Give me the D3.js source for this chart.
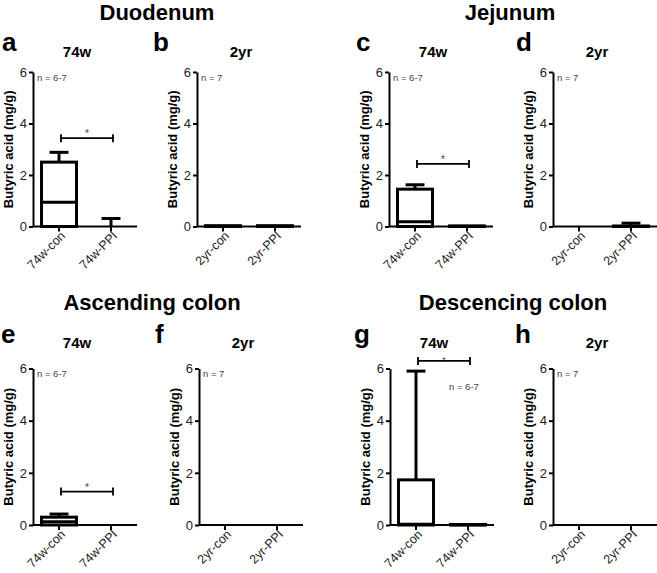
<!DOCTYPE html>
<html>
<head>
<meta charset="utf-8">
<script src="https://cdn.jsdelivr.net/npm/d3@7"></script>
<style>
  html, body { margin: 0; padding: 0; background: #fff; }
  svg { display: block; font-family: "Liberation Sans", Arial, sans-serif; }
</style>
</head>
<body>
<script>
// ---------------- DATA ----------------
const regionTitles = ["Duodenum", "Jejunum", "Ascending colon", "Descencing colon"];
const panelLetters = ["a", "b", "c", "d", "e", "f", "g", "h"];
const ageLabels = ["74w", "2yr", "74w", "2yr", "74w", "2yr", "74w", "2yr"];
const nLabels = ["n = 6-7", "n = 7", "n = 6-7", "n = 7", "n = 6-7", "n = 7", "n = 6-7", "n = 7"];
const categories74w = ["74w-con", "74w-PPI"];
const categories2yr = ["2yr-con", "2yr-PPI"];
const yTickValues = [0, 2, 4, 6];
const yLabel = "Butyric acid (mg/g)";
// box plot values per panel: [con, PPI]
const q1Values     = [[0, 0], [0, 0], [0, 0], [0, 0], [0, 0], [0, 0], [0, 0], [0, 0]];
const medianValues = [[0.94, 0], [0.01, 0.01], [0.18, 0.01], [0, 0], [0.12, 0], [0, 0], [0.03, 0.01], [0, 0]];
const q3Values     = [[2.5, 0], [0.03, 0.03], [1.45, 0.02], [0, 0.02], [0.3, 0], [0, 0], [1.73, 0.02], [0, 0]];
const maxValues    = [[2.88, 0.31], [0.03, 0.03], [1.62, 0.02], [0, 0.13], [0.42, 0], [0, 0], [5.9, 0.02], [0, 0]];
// significance bracket level (null = none)
const sigLevels = [3.43, null, 2.43, null, 1.28, null, 6.29, null];
const sigText = "*";

// ---------------- LAYOUT ----------------
const W = 657, H = 573;
const svg = d3.select("body").append("svg").attr("width", W).attr("height", H);

const headingPos = [[157, 20], [510, 20], [152, 310], [513, 310]];
const axisXs = [33, 197, 389, 553, 33, 199, 390, 553];
const letterXs = [2, 153, 356, 516, 1, 155, 354, 515];
const rowYTop = [72, 368.5];
const rowYBottom = [226.5, 525];
const letterY = [51, 343];
const subtitleY = [57, 348];
const plotW = 104;
// n-label offsets relative to (axis x, axis top)
const nOffsets = [[4, 9], [4, 9], [4, 9], [4, 9], [4, 8], [4, 8], [59, 21], [4, 8]];
// star baseline offset & size relative to bracket line
const starStyle = [[-1, 10], null, [-1, 10], null, [-1, 10], null, [2, 9], null];

regionTitles.forEach((t, i) => {
  svg.append("text")
    .attr("x", headingPos[i][0]).attr("y", headingPos[i][1])
    .attr("text-anchor", "middle")
    .attr("font-size", 22).attr("font-weight", "bold")
    .attr("fill", "#000")
    .text(t);
});

panelLetters.forEach((letter, p) => {
  const row = p < 4 ? 0 : 1;
  const ax = axisXs[p];
  const cats = (p % 2 === 0) ? categories74w : categories2yr;

  const y = d3.scaleLinear().domain([0, 6]).range([rowYBottom[row], rowYTop[row]]);
  const x = d3.scaleBand().domain(cats).range([ax, ax + plotW])
    .paddingInner(0.327).paddingOuter(0.1635);

  const g = svg.append("g");

  // panel letter
  g.append("text").attr("x", letterXs[p]).attr("y", letterY[row])
    .attr("font-size", 26).attr("font-weight", "bold").attr("fill", "#000")
    .text(letter);
  // subtitle
  g.append("text").attr("x", ax + 44).attr("y", subtitleY[row])
    .attr("text-anchor", "middle")
    .attr("font-size", 15).attr("font-weight", "bold").attr("fill", "#000")
    .text(ageLabels[p]);

  // y axis
  const yAxis = g.append("g").attr("transform", `translate(${ax},0)`)
    .call(d3.axisLeft(y).tickValues(yTickValues).tickFormat(d3.format("d")).tickSize(4).tickSizeOuter(0).tickPadding(2));
  yAxis.select(".domain").attr("stroke", "#000").attr("stroke-width", 2);
  yAxis.selectAll(".tick line").attr("stroke", "#000").attr("stroke-width", 2);
  yAxis.selectAll(".tick text").attr("font-size", 13).attr("fill", "#222")
    .attr("font-family", "Liberation Sans, Arial, sans-serif");

  // x axis
  const xAxis = g.append("g").attr("transform", `translate(0,${rowYBottom[row]})`)
    .call(d3.axisBottom(x).tickSize(5).tickSizeOuter(0));
  xAxis.select(".domain").attr("stroke", "#000").attr("stroke-width", 2)
    .attr("d", `M${ax},0H${ax + plotW}`);
  xAxis.selectAll(".tick line").attr("stroke", "#000").attr("stroke-width", 2);
  xAxis.selectAll(".tick text")
    .attr("font-size", 12.5).attr("fill", "#222")
    .attr("font-family", "Liberation Sans, Arial, sans-serif")
    .attr("text-anchor", "end")
    .attr("dy", null).attr("y", null)
    .attr("transform", "translate(7,10) rotate(-45)");

  // y axis label
  g.append("text")
    .attr("transform", `translate(${ax - 20},${(rowYTop[row] + rowYBottom[row]) / 2}) rotate(-90)`)
    .attr("text-anchor", "middle")
    .attr("font-size", 13).attr("font-weight", "bold").attr("fill", "#000")
    .text(yLabel);

  // n label
  g.append("text").attr("x", ax + nOffsets[p][0]).attr("y", rowYTop[row] + nOffsets[p][1])
    .attr("font-size", 9.5).attr("fill", "#444")
    .text(nLabels[p]);

  // boxes
  cats.forEach((c, k) => {
    const cx = x(c) + x.bandwidth() / 2;
    const bw = x.bandwidth();
    const q1 = q1Values[p][k], q3 = q3Values[p][k], med = medianValues[p][k], mx = maxValues[p][k];
    if (mx > q3 + 0.01) {
      g.append("line").attr("x1", cx).attr("x2", cx).attr("y1", y(q3)).attr("y2", y(mx))
        .attr("stroke", "#000").attr("stroke-width", 3);
      g.append("line").attr("x1", cx - bw * 0.27).attr("x2", cx + bw * 0.27)
        .attr("y1", y(mx)).attr("y2", y(mx))
        .attr("stroke", "#000").attr("stroke-width", 3);
    }
    if (q3 > q1) {
      g.append("rect").attr("x", x(c)).attr("width", bw)
        .attr("y", y(q3)).attr("height", y(q1) - y(q3))
        .attr("fill", "#fff").attr("stroke", "#000").attr("stroke-width", 3);
      g.append("line").attr("x1", x(c)).attr("x2", x(c) + bw)
        .attr("y1", y(med)).attr("y2", y(med))
        .attr("stroke", "#000").attr("stroke-width", 3);
    }
  });

  // significance bracket
  if (sigLevels[p] !== null) {
    const x1 = x(cats[0]) + x.bandwidth() / 2 + 2;
    const x2 = x(cats[1]) + x.bandwidth() / 2 + 2;
    const yy = y(sigLevels[p]);
    g.append("path")
      .attr("d", `M${x1},${yy - 4}V${yy + 4}M${x1},${yy}H${x2}M${x2},${yy - 4}V${yy + 4}`)
      .attr("fill", "none").attr("stroke", "#000").attr("stroke-width", 1.8);
    g.append("text").attr("x", (x1 + x2) / 2).attr("y", yy + starStyle[p][0])
      .attr("text-anchor", "middle").attr("font-size", starStyle[p][1]).attr("fill", "#444")
      .text(sigText);
  }
});
</script>
</body>
</html>
